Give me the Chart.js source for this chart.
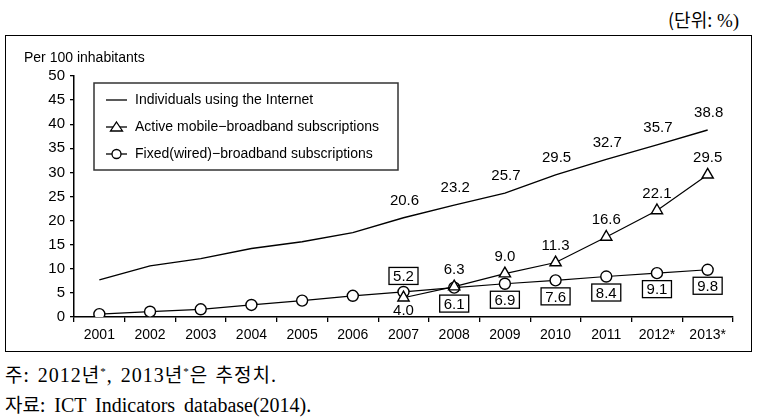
<!DOCTYPE html>
<html>
<head>
<meta charset="utf-8">
<script src="https://cdn.jsdelivr.net/npm/chart.js@4.4.0/dist/chart.umd.min.js"></script>
<style>
  html, body { margin: 0; padding: 0; background: #fff; }
  body { width: 761px; height: 420px; position: relative; overflow: hidden; }
  #unit { position: absolute; left: 668px; top: 6px; font: 19px "Liberation Serif", serif; color: #000; white-space: nowrap; }
  #unit .ko { font-family: "Noto Sans CJK KR", sans-serif; font-size: 18px; }
  #frame { position: absolute; left: 5px; top: 35px; width: 745px; height: 315px; border: 1.5px solid #000; }
  #ytitle { position: absolute; left: 24px; top: 49px; font: 14px "Liberation Sans", Arial, sans-serif; color: #000; white-space: nowrap; }
  canvas { position: absolute; left: 0; top: 0; }
  .note { position: absolute; left: 5px; font: 20px "Liberation Serif", serif; color: #000; white-space: nowrap; }
  .note .ko { font-family: "Noto Sans CJK KR", sans-serif; font-size: 19px; }
  #n1 { top: 360px; letter-spacing: 1px; word-spacing: 2px; }
  #n2 { top: 390px; word-spacing: 4px; }
  sup { font-size: 11px; vertical-align: 7px; line-height: 0; }
</style>
</head>
<body>
<div id="unit"><span class="ko">(단위:</span> %)</div>
<div id="frame"><canvas id="c" width="745" height="315"></canvas></div>
<div id="ytitle">Per 100 inhabitants</div>
<div class="note" id="n1"><span class="ko">주:</span> 2012<span class="ko">년</span><sup>*</sup>, 2013<span class="ko">년</span><sup>*</sup><span class="ko">은 추정치</span>.</div>
<div class="note" id="n2"><span class="ko">자료:</span> ICT Indicators database(2014).</div>
<script>
const categories = ['2001','2002','2003','2004','2005','2006','2007','2008','2009','2010','2011','2012*','2013*'];
const internetUsers = [7.7, 10.6, 12.1, 14.2, 15.6, 17.5, 20.6, 23.2, 25.7, 29.5, 32.7, 35.7, 38.8];
const mobileBroadband = [null, null, null, null, null, null, 4.0, 6.3, 9.0, 11.3, 16.6, 22.1, 29.5];
const fixedBroadband = [0.6, 1.1, 1.6, 2.5, 3.4, 4.4, 5.2, 6.1, 6.9, 7.6, 8.4, 9.1, 9.8];
const yTicks = [0, 5, 10, 15, 20, 25, 30, 35, 40, 45, 50];
const seriesNames = ['Individuals using the Internet', 'Active mobile\u2212broadband subscriptions', 'Fixed(wired)\u2212broadband subscriptions'];
const firstLabelIndex = 6;

const FONT = '"Liberation Sans", Arial, sans-serif';

const labelPlugin = {
  id: 'valueLabels',
  afterDatasetsDraw(chart) {
    const ctx = chart.ctx;
    ctx.save();
    ctx.font = '15px ' + FONT;
    ctx.fillStyle = '#000';
    ctx.textAlign = 'center';
    ctx.textBaseline = 'middle';
    chart.data.datasets.forEach((ds, di) => {
      const meta = chart.getDatasetMeta(di);
      ds.data.forEach((v, i) => {
        if (v === null || i < firstLabelIndex) return;
        const p = meta.data[i];
        const txt = v.toFixed(1);
        let y;
        if (di === 0) {
          y = p.y - 17;
          ctx.fillText(txt, p.x + 1, y);
        } else if (di === 1) {
          y = (i === firstLabelIndex) ? p.y + 13 : p.y - 17;
          ctx.fillText(txt, p.x, y);
        } else {
          y = (i === firstLabelIndex) ? p.y - 16 : p.y + 16;
          const w = 29, h = 17;
          ctx.fillStyle = '#fff';
          ctx.fillRect(p.x - w / 2, y - h / 2, w, h);
          ctx.strokeStyle = '#000';
          ctx.lineWidth = 1.3;
          ctx.strokeRect(p.x - w / 2, y - h / 2, w, h);
          ctx.fillStyle = '#000';
          ctx.fillText(txt, p.x, y + 1);
        }
      });
    });
    ctx.restore();
  }
};

const legendPlugin = {
  id: 'boxLegend',
  afterDraw(chart) {
    const ctx = chart.ctx;
    const area = chart.chartArea;
    const bx = area.left + 20, by = area.top + 7, bw = 304, bh = 87;
    ctx.save();
    ctx.strokeStyle = '#333';
    ctx.lineWidth = 1.5;
    ctx.fillStyle = '#fff';
    ctx.fillRect(bx, by, bw, bh);
    ctx.strokeRect(bx, by, bw, bh);
    ctx.font = '14px ' + FONT;
    ctx.textBaseline = 'middle';
    ctx.textAlign = 'left';
    const styles = ['none', 'triangle', 'circle'];
    seriesNames.forEach((name, k) => {
      const yy = by + 17 + k * 27;
      const x0 = bx + 12, x1 = bx + 33;
      ctx.strokeStyle = '#000';
      ctx.lineWidth = 1.3;
      ctx.beginPath(); ctx.moveTo(x0, yy); ctx.lineTo(x1, yy); ctx.stroke();
      const cx = (x0 + x1) / 2;
      ctx.fillStyle = '#fff';
      if (styles[k] === 'triangle') {
        ctx.beginPath();
        ctx.moveTo(cx, yy - 5); ctx.lineTo(cx + 6, yy + 4); ctx.lineTo(cx - 6, yy + 4); ctx.closePath();
        ctx.fill(); ctx.stroke();
      } else if (styles[k] === 'circle') {
        ctx.beginPath(); ctx.arc(cx, yy, 4.5, 0, Math.PI * 2); ctx.fill(); ctx.stroke();
      }
      ctx.fillStyle = '#000';
      ctx.fillText(name, bx + 41, yy);
    });
    ctx.restore();
  }
};

new Chart(document.getElementById('c'), {
  type: 'line',
  data: {
    labels: categories,
    datasets: [
      { label: seriesNames[0], data: internetUsers, borderColor: '#000', borderWidth: 1.4, pointRadius: 0, tension: 0 },
      { label: seriesNames[1], data: mobileBroadband, borderColor: '#000', borderWidth: 1.2, pointStyle: 'triangle', pointRadius: 6.5, pointBackgroundColor: '#fff', pointBorderColor: '#000', pointBorderWidth: 1.4, tension: 0 },
      { label: seriesNames[2], data: fixedBroadband, borderColor: '#000', borderWidth: 1.2, pointStyle: 'circle', pointRadius: 5.5, pointBackgroundColor: '#fff', pointBorderColor: '#000', pointBorderWidth: 1.4, tension: 0 }
    ]
  },
  options: {
    responsive: false,
    animation: false,
    layout: { padding: { top: 40, right: 18, left: 0, bottom: 0 } },
    plugins: { legend: { display: false }, tooltip: { enabled: false } },
    scales: {
      x: {
        offset: true,
        grid: { offset: true, drawOnChartArea: false, drawTicks: true, tickLength: 5, color: '#000', lineWidth: 1.3 },
        border: { color: '#000', width: 1.5 },
        ticks: { color: '#000', font: { family: FONT, size: 14 }, padding: 5, maxRotation: 0, autoSkip: false },
        afterFit(s) { s.height = 34; }
      },
      y: {
        min: 0, max: 50,
        afterBuildTicks(s) { s.ticks = yTicks.map(v => ({ value: v })); },
        grid: { drawOnChartArea: false, drawTicks: true, tickLength: 4, color: '#000', lineWidth: 1.3 },
        border: { color: '#000', width: 1.5 },
        ticks: { color: '#000', font: { family: FONT, size: 15 }, padding: 5 },
        afterFit(s) { s.width = 68; }
      }
    }
  },
  plugins: [labelPlugin, legendPlugin]
});
</script>
</body>
</html>
